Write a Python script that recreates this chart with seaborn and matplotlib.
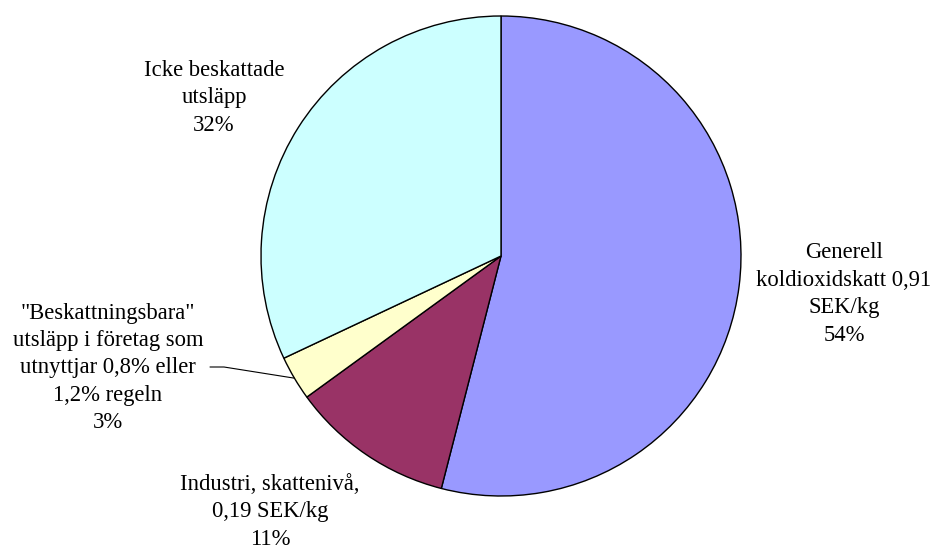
import numpy as np
import matplotlib
matplotlib.use("Agg")
import matplotlib.pyplot as plt
import seaborn as sns

# Data
labels = [
    "Generell\nkoldioxidskatt 0,91\nSEK/kg\n54%",
    "Industri, skattenivå,\n0,19 SEK/kg\n11%",
    "\"Beskattningsbara\"\nutsläpp i företag som\nutnyttjar 0,8% eller\n1,2% regeln\n3%",
    "Icke beskattade\nutsläpp\n32%",
]
shares = [54, 11, 3, 32]
colors = ["#9999FF", "#993366", "#FFFFCC", "#CCFFFF"]

# label centres in pixel coords (x, y from top)
label_pos = [(844, 294), (270, 512), (108, 368), (214, 98)]

sns.set_style("white")
plt.rcParams['font.family'] = ['Liberation Serif', 'DejaVu Serif']

W, H = 933, 546
fig = plt.figure(figsize=(W / 100, H / 100), dpi=100)
ax = fig.add_axes([0, 0, 1, 1])

cx, cy, r = 501, H - 256, 240
wedges, _ = ax.pie(shares, colors=colors, startangle=90, counterclock=False,
                   center=(cx, cy), radius=r,
                   wedgeprops=dict(edgecolor="black", linewidth=1.0))
ax.set_xlim(0, W)
ax.set_ylim(0, H)
ax.set_aspect("equal")
ax.axis("off")

for lab, (px, py) in zip(labels, label_pos):
    ax.text(px, H - py, lab, ha="center", va="center", fontsize=16.3,
            linespacing=1.4, color="black")

# leader line for the small slice
w = wedges[2]
mid = np.deg2rad((w.theta1 + w.theta2) / 2)
ex, ey = cx + r * np.cos(mid), cy + r * np.sin(mid)
ax.plot([210, 224, ex], [H - 367, H - 367, ey], color="black", linewidth=0.8)

fig.savefig("out.png", dpi=100)
